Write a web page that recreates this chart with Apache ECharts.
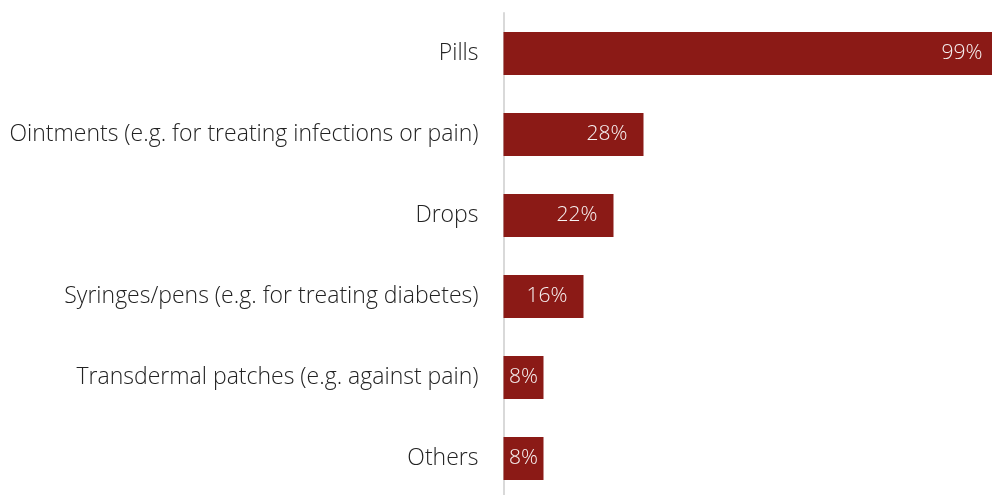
<!DOCTYPE html>
<html>
<head>
<meta charset="utf-8">
<script src="https://cdn.jsdelivr.net/npm/echarts@6/dist/echarts.min.js"></script>
<style>
  html, body { margin: 0; padding: 0; background: #ffffff; }
  #chart { width: 992px; height: 495px; }
</style>
</head>
<body>
<div id="chart"></div>
<script>
// Forms of medication used (share of respondents, %)
const categories = [
  'Pills',
  'Ointments (e.g. for treating infections or pain)',
  'Drops',
  'Syringes/pens (e.g. for treating diabetes)',
  'Transdermal patches (e.g. against pain)',
  'Others'
];
const shares = [99, 28, 22, 16, 8, 8];

const FONT = '"Open Sans", sans-serif';

const chart = echarts.init(document.getElementById('chart'), null, { renderer: 'canvas' });

// Short bars get their label centred, longer ones sit near the bar end
const barData = shares.map(v => ({
  value: v,
  label: v < 10
    ? { position: 'inside' }
    : { position: 'insideRight', distance: 16 }
}));

chart.setOption({
  animation: false,
  backgroundColor: '#ffffff',
  grid: {
    left: 503.5, top: 13, width: 500, height: 486,
    containLabel: false,
    outerBoundsMode: 'none'
  },
  xAxis: {
    type: 'value',
    min: 0,
    max: 100,
    show: false
  },
  yAxis: {
    type: 'category',
    data: categories,
    inverse: true,
    axisLine: { show: true, lineStyle: { color: '#d9d9d9', width: 2 } },
    axisTick: { show: false },
    splitLine: { show: false },
    axisLabel: {
      margin: 25,
      color: '#222222',
      fontFamily: FONT,
      fontSize: 23,
      fontWeight: 300
    }
  },
  series: [{
    type: 'bar',
    data: barData,
    barWidth: 43,
    clip: false,
    itemStyle: { color: '#8b1a16' },
    label: {
      show: true,
      formatter: p => p.value + '%',
      color: '#f7f2f2',
      fontFamily: FONT,
      fontSize: 21,
      fontWeight: 300
    }
  }]
});
</script>
</body>
</html>
